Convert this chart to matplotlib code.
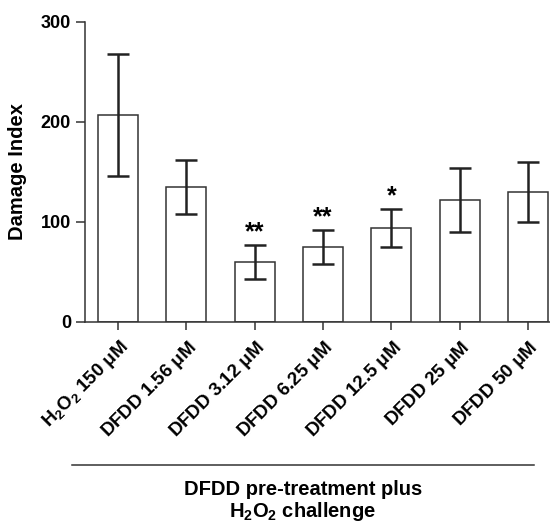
import matplotlib
matplotlib.use('Agg')
import matplotlib.pyplot as plt
from matplotlib.lines import Line2D
import numpy as np

plt.rcParams['font.family'] = ['Liberation Sans', 'DejaVu Sans']
plt.rcParams['font.weight'] = 'bold'
plt.rcParams['mathtext.fontset'] = 'custom'
plt.rcParams['mathtext.rm'] = 'Liberation Sans:bold'
plt.rcParams['mathtext.bf'] = 'Liberation Sans:bold'
plt.rcParams['mathtext.it'] = 'Liberation Sans'

groups = ['H$_2$O$_2$ 150 $\\mu$M', 'DFDD 1.56 $\\mu$M', 'DFDD 3.12 $\\mu$M',
          'DFDD 6.25 $\\mu$M', 'DFDD 12.5 $\\mu$M', 'DFDD 25 $\\mu$M',
          'DFDD 50 $\\mu$M']
means = [207, 135, 60, 75, 94, 122, 130]
errors = [61, 27, 17, 17, 19, 32, 30]
stars = ['', '', '**', '**', '*', '', '']

fig = plt.figure(figsize=(5.5, 5.23), dpi=100)
ax = fig.add_axes([85 / 550, 1 - 322 / 523, 465 / 550, 300 / 523])

x = np.arange(len(groups))
ax.bar(x, means, width=0.585, color='white', edgecolor='#333333', linewidth=1.1)
ax.errorbar(x, means, yerr=errors, fmt='none', ecolor='#222222',
            elinewidth=1.8, capsize=8, capthick=1.8)

# significance marks
for xi, m, e, s in zip(x, means, errors, stars):
    if s:
        ax.text(xi, m + e + 6, s, ha='center', va='baseline', fontsize=18,
                fontweight='bold')

ax.set_xlim(-0.483, 6.32)
ax.set_ylim(0, 300)
ax.set_yticks([0, 100, 200, 300])
ax.set_xticks(x)
ax.set_xticklabels(groups, rotation=45, ha='right', va='top',
                   rotation_mode='anchor', fontsize=13.5, fontweight='bold')
ax.tick_params(axis='y', labelsize=13, length=6.5, width=1.1, color='#333333')
ax.tick_params(axis='x', length=6, width=1.1, color='#333333', pad=5)
for lab in ax.get_yticklabels():
    lab.set_fontweight('bold')
ax.set_ylabel('Damage Index', fontsize=14.5, fontweight='bold', labelpad=10)

ax.spines['top'].set_visible(False)
ax.spines['right'].set_visible(False)
for side in ['left', 'bottom']:
    ax.spines[side].set_linewidth(1.1)
    ax.spines[side].set_color('#333333')

fig.add_artist(Line2D([72 / 550, 534 / 550], [1 - 465 / 523, 1 - 465 / 523],
                      transform=fig.transFigure, color='#333333', linewidth=1.1))
fig.text(303 / 550, 1 - 495 / 523, 'DFDD pre-treatment plus', ha='center',
         va='baseline', fontsize=14.5, fontweight='bold')
fig.text(303 / 550, 1 - 517 / 523, 'H$_2$O$_2$ challenge', ha='center',
         va='baseline', fontsize=14.5, fontweight='bold')

fig.savefig('out.png', dpi=100)
